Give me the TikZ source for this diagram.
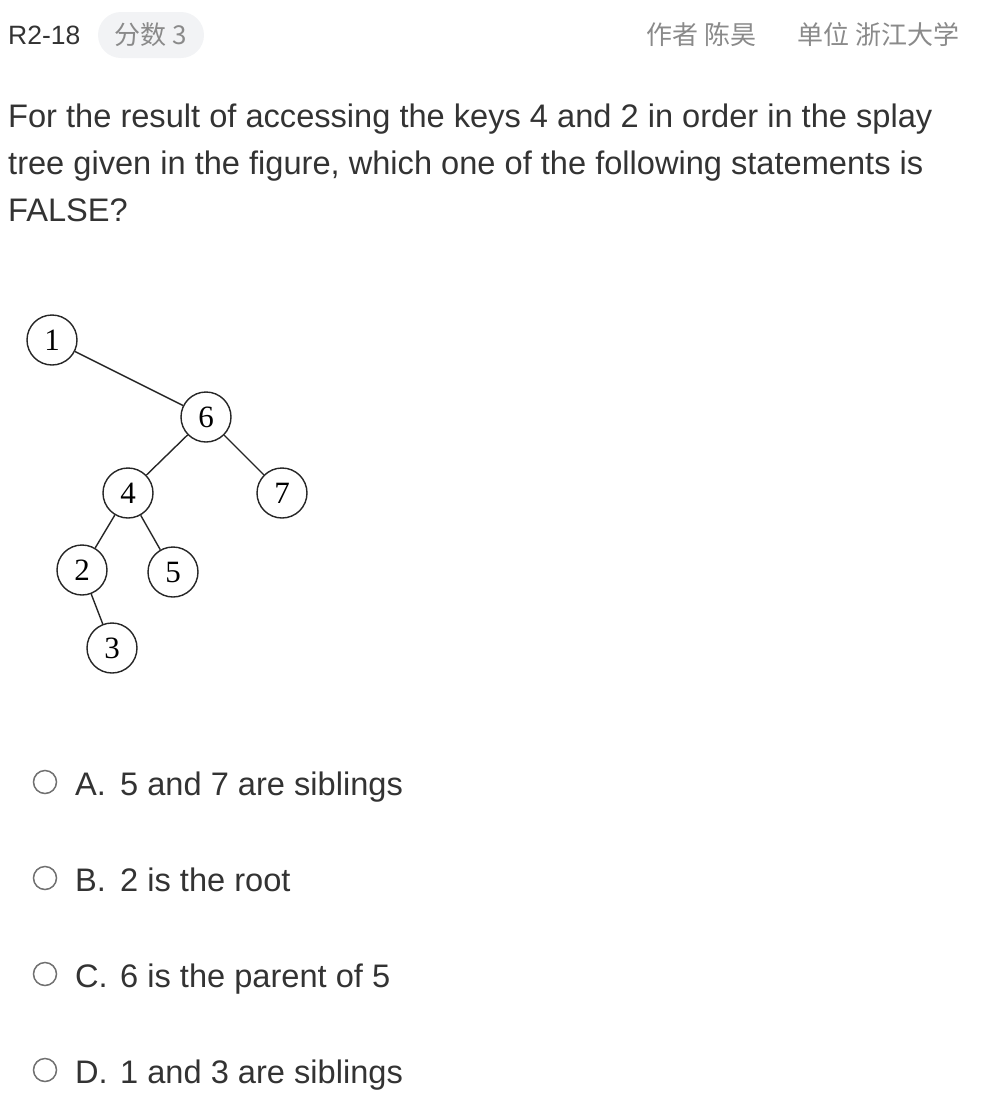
\documentclass[tikz,border=0pt]{standalone}
\usepackage{fontspec}
\setmainfont{Liberation Sans}
\newfontfamily\cjkfont{Noto Sans CJK SC}
\newfontfamily\treefont{Liberation Serif}
\definecolor{textdark}{HTML}{333333}
\definecolor{textgray}{HTML}{8A8A8A}
\definecolor{pillgray}{HTML}{F2F3F5}
\definecolor{radiogray}{HTML}{707070}

\begin{document}
\begin{tikzpicture}[x=1pt,y=-1pt]
    \tikzset{VertexStyle/.style = {%
        shape= circle,
        draw= black!85,
        line width= 1.4pt,
        minimum size = 50pt,
        inner sep= 0pt,
        font= \treefont\fontsize{31}{31}\selectfont},
      EdgeStyle/.style = {draw= black!85, line width= 1.4pt},
      TextStyle/.style = {anchor= base west, inner sep= 0pt, text= textdark,
        font= \fontsize{32.6}{38}\selectfont}}
    \useasboundingbox (0,0) rectangle (982,1104);
    % header
    \node[anchor=base west, inner sep=0pt, text=textdark,
      font=\fontsize{26.5}{26}\selectfont] (id) at (8,44) {R2-18};
    \node[fill=pillgray, rounded corners=23pt, minimum width=106pt,
      minimum height=46pt, inner sep=0pt, text=textgray,
      font=\cjkfont\fontsize{26}{26}\selectfont] (score) at (151,35) {分数 3};
    \node[anchor=base east, inner sep=0pt, text=textgray,
      font=\cjkfont\fontsize{26}{26}\selectfont] (unit) at (960,44) {单位 浙江大学};
    \node[anchor=base east, inner sep=0pt, text=textgray,
      font=\cjkfont\fontsize{26}{26}\selectfont] (author) at (757,44) {作者 陈昊};
    % question
    \node[TextStyle] (q1) at (8,127) {For the result of accessing the keys 4 and 2 in order in the splay};
    \node[TextStyle] (q2) at (8,174) {tree given in the figure, which one of the following statements is};
    \node[TextStyle] (q3) at (8,221) {FALSE?};
    % tree
    \node[VertexStyle] (v1) at (52,340) {1};
    \node[VertexStyle] (v6) at (206,417) {6};
    \node[VertexStyle] (v4) at (128,493) {4};
    \node[VertexStyle] (v7) at (282,493) {7};
    \node[VertexStyle] (v2) at (82,570) {2};
    \node[VertexStyle] (v5) at (173,572) {5};
    \node[VertexStyle] (v3) at (112,648) {3};
    \draw[EdgeStyle] (v1) -- (v6);
    \draw[EdgeStyle] (v6) -- (v4);
    \draw[EdgeStyle] (v6) -- (v7);
    \draw[EdgeStyle] (v4) -- (v2);
    \draw[EdgeStyle] (v4) -- (v5);
    \draw[EdgeStyle] (v2) -- (v3);
    % options
    \foreach \l/\t/\y in {A/5 and 7 are siblings/782, B/2 is the root/878,
                          C/6 is the parent of 5/974, D/1 and 3 are siblings/1070}{
      \node[circle, draw=radiogray, line width=1.5pt, minimum size=23pt,
        inner sep=0pt] (r\l) at (45,\y) {};
      \node[TextStyle] (l\l) at (75,\y+13) {\l.};
      \node[TextStyle] (t\l) at (120,\y+13) {\t};
    }
  \end{tikzpicture}
\end{document}
